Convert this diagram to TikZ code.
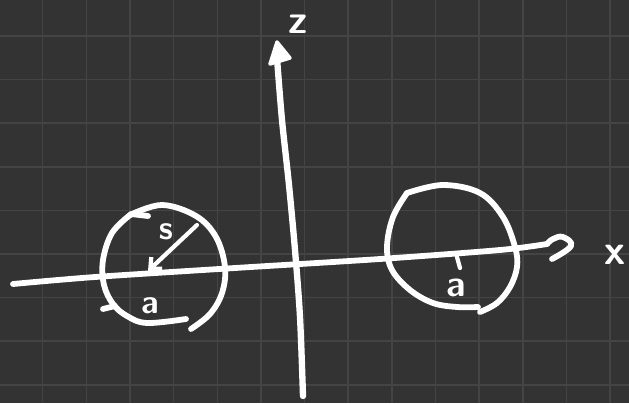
\documentclass[tikz,border=0pt]{standalone}
\usepackage{tikz}
\usetikzlibrary{arrows.meta}
\definecolor{cBoard}{HTML}{333333}
\definecolor{cGrid}{HTML}{444444}

\begin{document}
\begin{tikzpicture}[x=0.02cm,y=-0.02cm]
  \tikzset{
    ink/.style={draw=white, line width=3.3pt, line cap=round, line join=round},
    thinink/.style={ink, line width=2.4pt},
    hand/.style={text=white, font=\sffamily\bfseries, inner sep=0pt},
  }
  % board and grid
  \fill[cBoard] (0,0) rectangle (629,403);
  \useasboundingbox (0,0) rectangle (629,403);
  \foreach \i in {0,...,13} {
    \draw[cGrid, line width=0.9pt] ({42.7+43.65*\i},0) -- ({42.7+43.65*\i},403); }
  \foreach \j in {0,...,8} {
    \draw[cGrid, line width=0.9pt] (0,{36+43.6*\j}) -- (629,{36+43.6*\j}); }
  % x axis with its hooked head
  \draw[ink] plot[smooth, tension=0.5] coordinates
    {(13,284) (95,277) (235,268) (380,259) (500,250) (547,244)};
  \draw[ink] plot[smooth, tension=0.7] coordinates
    {(547,244) (553,239) (563,237) (571,246) (552,259)};
  \node[hand, font=\sffamily\bfseries\fontsize{24}{24}\selectfont] (xlab) at (615,255) {x};
  % z axis
  \draw[ink, line width=3.6pt] plot[smooth, tension=0.5] coordinates
    {(277,58) (282,120) (289,185) (295,250) (300,317) (303,396)};
  \filldraw[white, line width=2pt, line join=round] (277,42) -- (270,64) -- (290,58) -- cycle;
  \node[hand, font=\sffamily\bfseries\fontsize{23}{23}\selectfont] (zlab) at (298,24) {z};
  % left circle, radius s
  \draw[ink] plot[smooth, tension=0.6] coordinates
    {(130,215) (162,205) (196,216) (216,237) (225,267) (222,293) (210,314) (191,329)};
  \draw[ink] plot[smooth, tension=0.6] coordinates
    {(130,215) (112,233) (103,260) (104,285) (113,304) (127,316) (147,323) (186,319)};
  \draw[ink] (103,309) -- (115,306);
  \draw[ink] (131,214) -- (148,216);
  \coordinate (rim) at (197,225);
  \coordinate (ctr) at (148,271);
  \draw[thinink, -{Straight Barb[length=5pt, width=9pt]}] (rim) -- (ctr);
  \node[hand, font=\sffamily\bfseries\fontsize{19}{19}\selectfont] (slab) at (166,232) {s};
  \node[hand, font=\sffamily\bfseries\fontsize{19}{19}\selectfont] (alab) at (150,306) {a};
  % right circle
  \draw[ink] plot[smooth, tension=0.6] coordinates
    {(407,193) (443,185) (480,193) (503,217) (515,247) (517,267) (510,287) (497,303) (480,312)};
  \draw[ink] plot[smooth, tension=0.6] coordinates
    {(407,193) (393,217) (387,247) (392,270) (410,290) (433,303) (457,307) (478,307)};
  \draw[thinink] (457,257) -- (460,268);
  \node[hand, font=\sffamily\bfseries\fontsize{21}{21}\selectfont] (blab) at (456,288) {a};
\end{tikzpicture}
\end{document}
